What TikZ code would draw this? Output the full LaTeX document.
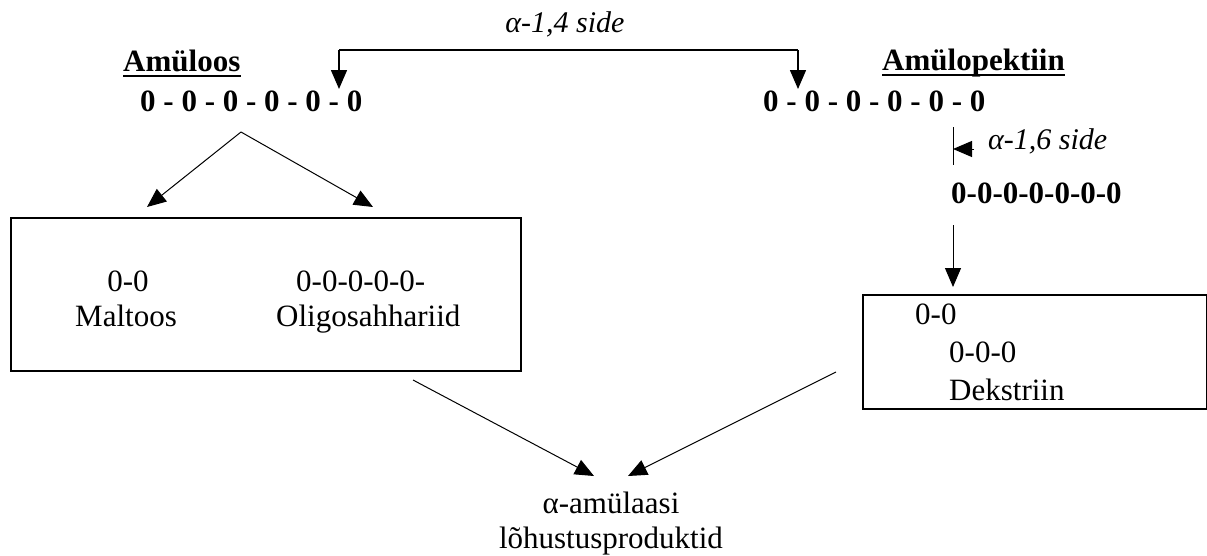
\documentclass[tikz,border=0pt]{standalone}
\usepackage{fontspec}
\setmainfont{Liberation Serif}
\usetikzlibrary{arrows.meta,calc}
\begin{document}
\begin{tikzpicture}[x=1pt,y=-1pt,
  txt/.style={inner sep=0pt, anchor=base west, font=\fontsize{31}{38}\selectfont},
  btxt/.style={txt, font=\fontsize{31}{38}\selectfont\bfseries},
  itxt/.style={txt, font=\fontsize{30}{38}\selectfont\itshape},
  tipped/.style={-{Triangle[length=19pt,width=16pt]}},
  conn/.style={tipped, line width=1pt},
  bracket/.style={line width=1.5pt},
  uline/.style={line width=2.5pt},
  boxed/.style={draw, line width=1.5pt}]
\useasboundingbox (0,0) rectangle (1207,555);
% titles
\node[btxt] (amy) at (123,71) {Amüloos};
\node[btxt] (amp) at (882,70) {Amülopektiin};
\draw[uline] ($(amy.base west)+(0,5)$) -- ($(amy.base east)+(0,5)$);
\draw[uline] ($(amp.base west)+(0,5)$) -- ($(amp.base east)+(0,5)$);
\node[btxt] (chainL) at (140,111) {0 - 0 - 0 - 0 - 0 - 0};
\node[btxt] (chainR) at (763,111) {0 - 0 - 0 - 0 - 0 - 0};
\node[itxt, anchor=base] (l14) at (565,32) {α-1,4 side};
\node[itxt] (l16) at (988,149) {α-1,6 side};
\node[btxt] (chain7) at (951,203) {0-0-0-0-0-0-0};
% bracket
\coordinate (b1) at (339,50);
\coordinate (b2) at (798,50);
\coordinate (t1) at (339,89);
\coordinate (t2) at (798,89);
\draw[bracket] (b1) -- (b2);
\draw[bracket, tipped] (b1) -- (t1);
\draw[bracket, tipped] (b2) -- (t2);
% alpha-1,6 mark
\coordinate (v1) at (953,127);
\coordinate (v2) at (953,165);
\coordinate (h1) at (974,149);
\coordinate (h2) at (953,149);
\draw[line width=1pt] (v1) -- (v2);
\draw[tipped, line width=1pt] (h1) -- (h2);
% left box
\node[boxed, minimum width=510pt, minimum height=153pt, anchor=north west] (boxL) at (10,217) {};
\node[txt, anchor=base] (m1) at (128,291) {0-0};
\node[txt, anchor=base] (m2) at (126,326) {Maltoos};
\node[txt] (o1) at (296,291) {0-0-0-0-0-};
\node[txt] (o2) at (276,326) {Oligosahhariid};
\coordinate (apex) at (241,132);
\coordinate (tl) at (147,207);
\coordinate (tr) at (373,207);
\draw[conn] (apex) -- (tl);
\draw[conn] (apex) -- (tr);
% right box
\node[boxed, minimum width=344pt, minimum height=114pt, anchor=north west] (boxR) at (862,294) {};
\node[txt] (d1) at (915,324) {0-0};
\node[txt] (d2) at (949,362) {0-0-0};
\node[txt] (d3) at (949,400) {Dekstriin};
\coordinate (da) at (953,225);
\coordinate (db) at (953,287);
\draw[tipped, line width=1pt] (da) -- (db);
% products
\node[txt, anchor=base] (p1) at (611,513) {α-amülaasi};
\node[txt, anchor=base] (p2) at (611,548) {lõhustusproduktid};
\coordinate (s1) at (413,380);
\coordinate (e1) at (594,476);
\coordinate (s2) at (836,372);
\coordinate (e2) at (628,476);
\draw[conn] (s1) -- (e1);
\draw[conn] (s2) -- (e2);
\end{tikzpicture}
\end{document}
